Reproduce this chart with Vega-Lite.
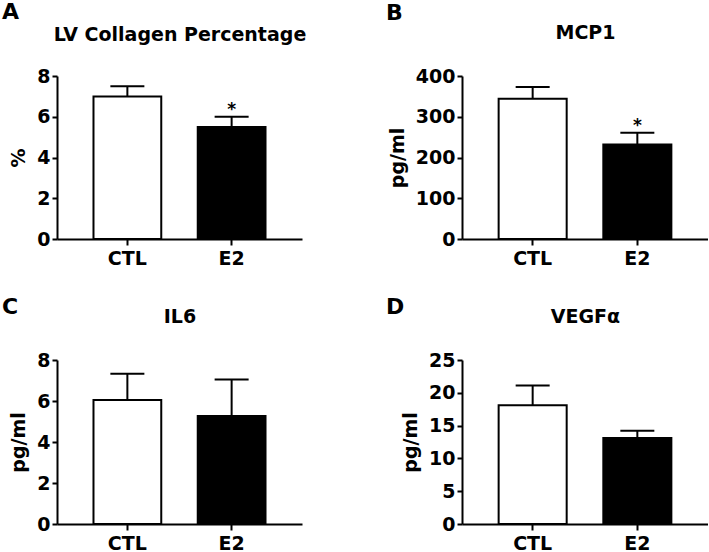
{
  "$schema": "https://vega.github.io/schema/vega-lite/v6.json",
  "padding": {"left": 2, "top": 1, "right": 0, "bottom": -2},
  "background": "white",
  "config": {
    "view": {"stroke": null},
    "font": "DejaVu Sans",
    "axis": {
      "labelFont": "DejaVu Sans", "labelFontWeight": "bold", "labelFontSize": 19, "labelColor": "black",
      "titleFont": "DejaVu Sans", "titleFontWeight": "bold", "titleFontSize": 19, "titleColor": "black",
      "domainColor": "black", "domainWidth": 2, "tickColor": "black", "tickWidth": 2, "grid": false
    },
    "axisX": {"tickSize": 6, "labelAngle": 0, "labelPadding": 4},
    "axisY": {"tickSize": 5, "labelPadding": 2, "titlePadding": 8},
    "title": {"font": "DejaVu Sans", "fontSize": 22, "fontWeight": "bold", "color": "black", "anchor": "start", "frame": "group"}
  },
  "datasets": {
    "d": [
      {"panel": "A", "group": "CTL", "mean": 7.0, "upper": 7.5, "sig": ""},
      {"panel": "A", "group": "E2", "mean": 5.5, "upper": 6.0, "sig": "*"},
      {"panel": "B", "group": "CTL", "mean": 344, "upper": 373, "sig": ""},
      {"panel": "B", "group": "E2", "mean": 232, "upper": 261, "sig": "*"},
      {"panel": "C", "group": "CTL", "mean": 6.05, "upper": 7.33, "sig": ""},
      {"panel": "C", "group": "E2", "mean": 5.27, "upper": 7.05, "sig": ""},
      {"panel": "D", "group": "CTL", "mean": 18.1, "upper": 21.1, "sig": ""},
      {"panel": "D", "group": "E2", "mean": 13.1, "upper": 14.2, "sig": ""}
    ]
  },
  "columns": 2,
  "bounds": "flush",
  "spacing": {"column": 160, "row": 121},
  "concat": [
    {
      "width": 245, "height": 163,
      "data": {"name": "d"},
      "transform": [{"filter": "datum.panel === 'A'"}],
      "title": {"text": "A", "dx": -55, "offset": 1},
      "layer": [
        {"mark": {"type": "bar", "stroke": "black", "strokeWidth": 2},
         "encoding": {
           "x": {"field": "group", "type": "nominal", "sort": ["CTL", "E2"], "scale": {"paddingInner": 0.35, "paddingOuter": 0.35}, "axis": {"orient": "bottom", "title": null}},
           "y": {"field": "mean", "type": "quantitative", "scale": {"domain": [0, 8], "nice": false}, "axis": {"values": [0, 2, 4, 6, 8], "title": "%"}},
           "fill": {"field": "group", "type": "nominal", "scale": {"domain": ["CTL", "E2"], "range": ["white", "black"]}, "legend": null}}},
        {"mark": {"type": "rule", "strokeWidth": 2, "color": "black"},
         "encoding": {
           "x": {"field": "group", "type": "nominal", "sort": ["CTL", "E2"], "axis": {"orient": "top", "title": "LV Collagen Percentage", "labels": false, "ticks": false, "domain": false, "titlePadding": 32}},
           "y": {"field": "mean", "type": "quantitative", "scale": {"domain": [0, 8], "nice": false}, "axis": {"values": [0, 2, 4, 6, 8], "title": "%"}},
           "y2": {"field": "upper"}}},
        {"mark": {"type": "tick", "size": 34, "thickness": 2, "color": "black", "opacity": 1},
         "encoding": {
           "x": {"field": "group", "type": "nominal", "sort": ["CTL", "E2"], "axis": null},
           "y": {"field": "upper", "type": "quantitative", "scale": {"domain": [0, 8], "nice": false}, "axis": {"values": [0, 2, 4, 6, 8], "title": "%"}}}},
        {"mark": {"type": "text", "baseline": "alphabetic", "dy": -2, "fontSize": 17, "fontWeight": "bold", "color": "black"},
         "encoding": {
           "x": {"field": "group", "type": "nominal", "sort": ["CTL", "E2"], "axis": null},
           "y": {"field": "upper", "type": "quantitative", "scale": {"domain": [0, 8], "nice": false}, "axis": {"values": [0, 2, 4, 6, 8], "title": "%"}},
           "text": {"field": "sig"}}}
      ]
    },
    {
      "width": 246, "height": 163,
      "data": {"name": "d"},
      "transform": [{"filter": "datum.panel === 'B'"}],
      "title": {"text": "B", "dx": -76, "offset": -2},
      "layer": [
        {"mark": {"type": "bar", "stroke": "black", "strokeWidth": 2},
         "encoding": {
           "x": {"field": "group", "type": "nominal", "sort": ["CTL", "E2"], "scale": {"paddingInner": 0.35, "paddingOuter": 0.35}, "axis": {"orient": "bottom", "title": null}},
           "y": {"field": "mean", "type": "quantitative", "scale": {"domain": [0, 400], "nice": false}, "axis": {"values": [0, 100, 200, 300, 400], "title": "pg/ml"}},
           "fill": {"field": "group", "type": "nominal", "scale": {"domain": ["CTL", "E2"], "range": ["white", "black"]}, "legend": null}}},
        {"mark": {"type": "rule", "strokeWidth": 2, "color": "black"},
         "encoding": {
           "x": {"field": "group", "type": "nominal", "sort": ["CTL", "E2"], "axis": {"orient": "top", "title": "MCP1", "labels": false, "ticks": false, "domain": false, "titlePadding": 34}},
           "y": {"field": "mean", "type": "quantitative", "scale": {"domain": [0, 400], "nice": false}, "axis": {"values": [0, 100, 200, 300, 400], "title": "pg/ml"}},
           "y2": {"field": "upper"}}},
        {"mark": {"type": "tick", "size": 34, "thickness": 2, "color": "black", "opacity": 1},
         "encoding": {
           "x": {"field": "group", "type": "nominal", "sort": ["CTL", "E2"], "axis": null},
           "y": {"field": "upper", "type": "quantitative", "scale": {"domain": [0, 400], "nice": false}, "axis": {"values": [0, 100, 200, 300, 400], "title": "pg/ml"}}}},
        {"mark": {"type": "text", "baseline": "alphabetic", "dy": -2, "fontSize": 17, "fontWeight": "bold", "color": "black"},
         "encoding": {
           "x": {"field": "group", "type": "nominal", "sort": ["CTL", "E2"], "axis": null},
           "y": {"field": "upper", "type": "quantitative", "scale": {"domain": [0, 400], "nice": false}, "axis": {"values": [0, 100, 200, 300, 400], "title": "pg/ml"}},
           "text": {"field": "sig"}}}
      ]
    },
    {
      "width": 245, "height": 164,
      "data": {"name": "d"},
      "transform": [{"filter": "datum.panel === 'C'"}],
      "title": {"text": "C", "dx": -55, "offset": -12},
      "layer": [
        {"mark": {"type": "bar", "stroke": "black", "strokeWidth": 2},
         "encoding": {
           "x": {"field": "group", "type": "nominal", "sort": ["CTL", "E2"], "scale": {"paddingInner": 0.35, "paddingOuter": 0.35}, "axis": {"orient": "bottom", "title": null}},
           "y": {"field": "mean", "type": "quantitative", "scale": {"domain": [0, 8], "nice": false}, "axis": {"values": [0, 2, 4, 6, 8], "title": "pg/ml"}},
           "fill": {"field": "group", "type": "nominal", "scale": {"domain": ["CTL", "E2"], "range": ["white", "black"]}, "legend": null}}},
        {"mark": {"type": "rule", "strokeWidth": 2, "color": "black"},
         "encoding": {
           "x": {"field": "group", "type": "nominal", "sort": ["CTL", "E2"], "axis": {"orient": "top", "title": "IL6", "labels": false, "ticks": false, "domain": false, "titlePadding": 34}},
           "y": {"field": "mean", "type": "quantitative", "scale": {"domain": [0, 8], "nice": false}, "axis": {"values": [0, 2, 4, 6, 8], "title": "pg/ml"}},
           "y2": {"field": "upper"}}},
        {"mark": {"type": "tick", "size": 34, "thickness": 2, "color": "black", "opacity": 1},
         "encoding": {
           "x": {"field": "group", "type": "nominal", "sort": ["CTL", "E2"], "axis": null},
           "y": {"field": "upper", "type": "quantitative", "scale": {"domain": [0, 8], "nice": false}, "axis": {"values": [0, 2, 4, 6, 8], "title": "pg/ml"}}}}
      ]
    },
    {
      "width": 246, "height": 164,
      "data": {"name": "d"},
      "transform": [{"filter": "datum.panel === 'D'"}],
      "title": {"text": "D", "dx": -76, "offset": -12},
      "layer": [
        {"mark": {"type": "bar", "stroke": "black", "strokeWidth": 2},
         "encoding": {
           "x": {"field": "group", "type": "nominal", "sort": ["CTL", "E2"], "scale": {"paddingInner": 0.35, "paddingOuter": 0.35}, "axis": {"orient": "bottom", "title": null}},
           "y": {"field": "mean", "type": "quantitative", "scale": {"domain": [0, 25], "nice": false}, "axis": {"values": [0, 5, 10, 15, 20, 25], "title": "pg/ml"}},
           "fill": {"field": "group", "type": "nominal", "scale": {"domain": ["CTL", "E2"], "range": ["white", "black"]}, "legend": null}}},
        {"mark": {"type": "rule", "strokeWidth": 2, "color": "black"},
         "encoding": {
           "x": {"field": "group", "type": "nominal", "sort": ["CTL", "E2"], "axis": {"orient": "top", "title": "VEGFα", "labels": false, "ticks": false, "domain": false, "titlePadding": 34}},
           "y": {"field": "mean", "type": "quantitative", "scale": {"domain": [0, 25], "nice": false}, "axis": {"values": [0, 5, 10, 15, 20, 25], "title": "pg/ml"}},
           "y2": {"field": "upper"}}},
        {"mark": {"type": "tick", "size": 34, "thickness": 2, "color": "black", "opacity": 1},
         "encoding": {
           "x": {"field": "group", "type": "nominal", "sort": ["CTL", "E2"], "axis": null},
           "y": {"field": "upper", "type": "quantitative", "scale": {"domain": [0, 25], "nice": false}, "axis": {"values": [0, 5, 10, 15, 20, 25], "title": "pg/ml"}}}}
      ]
    }
  ]
}
